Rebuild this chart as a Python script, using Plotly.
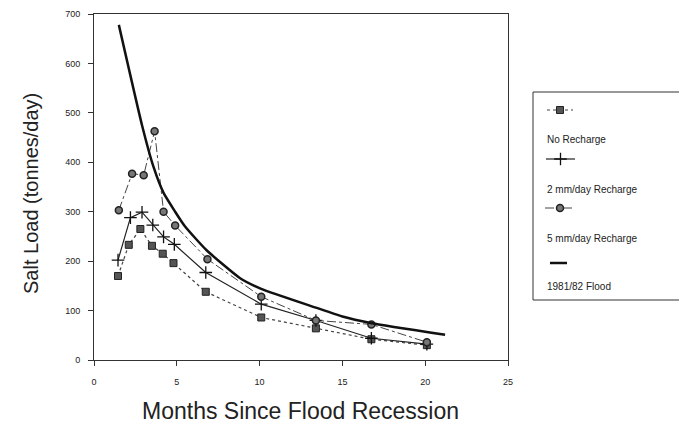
import plotly.graph_objects as go

W, H = 679, 429

# ---------------- data ----------------
months_none = [1.45, 2.1, 2.8, 3.5, 4.15, 4.8, 6.75, 10.1, 13.4, 16.75, 20.1]
load_none = [170, 233, 265, 231, 215, 196, 138, 86, 64, 42, 30]

months_2mm = [1.45, 2.2, 2.9, 3.55, 4.2, 4.85, 6.75, 10.1, 13.4, 16.75, 20.1]
load_2mm = [202, 288, 299, 273, 249, 234, 177, 113, 80, 44, 32]

months_5mm = [1.5, 2.3, 3.0, 3.66, 4.2, 4.9, 6.85, 10.1, 13.4, 16.75, 20.1]
load_5mm = [303, 377, 374, 463, 300, 272, 204, 128, 80, 72, 36]

months_flood = [1.5, 2.9, 3.6, 4.2, 4.9, 5.5, 6.8, 8.8, 10.1, 13.4, 15.0, 16.7, 21.2]
load_flood = [678, 475, 390, 338, 300, 270, 222, 166, 144, 106, 88, 75, 51]

x_ticks = [0, 5, 10, 15, 20, 25]
y_ticks = [0, 100, 200, 300, 400, 500, 600, 700]

series_names = ["No Recharge", "2 mm/day Recharge", "5 mm/day Recharge", "1981/82 Flood"]

# ---------------- styles ----------------
FONT = "Liberation Sans, Arial, sans-serif"
style_none = dict(line=dict(color="#444", width=1.2, dash="dot"),
                  marker=dict(symbol="square", size=7, color="#555",
                              line=dict(color="#222", width=1)))
style_2mm = dict(line=dict(color="#222", width=1.2),
                 marker=dict(symbol="cross-thin", size=9,
                             line=dict(color="#111", width=1.3)))
style_5mm = dict(line=dict(color="#444", width=1, dash="dashdot"),
                 marker=dict(symbol="circle", size=7, color="#777",
                             line=dict(color="#222", width=1.5)))
style_flood = dict(line=dict(color="#111", width=2.5, shape="spline", smoothing=0.5))

fig = go.Figure()
fig.add_trace(go.Scatter(x=months_none, y=load_none, mode="lines+markers",
                         name=series_names[0], **style_none))
fig.add_trace(go.Scatter(x=months_2mm, y=load_2mm, mode="lines+markers",
                         name=series_names[1], **style_2mm))
fig.add_trace(go.Scatter(x=months_5mm, y=load_5mm, mode="lines+markers",
                         name=series_names[2], **style_5mm))
fig.add_trace(go.Scatter(x=months_flood, y=load_flood, mode="lines",
                         name=series_names[3], **style_flood))

# ---------------- hand-drawn legend (pixel-like helper axes) ----------------
leg_left, leg_top, leg_bottom = 533, 92, 300
sym_rows = [110, 159, 208, 263]
lab_rows = [139, 189, 238, 286]
sample_styles = [(style_none, 547, 573),
                 (style_2mm, 546, 575),
                 (style_5mm, 545, 575),
                 (dict(line=dict(color="#111", width=2.5)), 550, 567)]
for (st, x0, x1), yy in zip(sample_styles, sym_rows):
    fig.add_trace(go.Scatter(x=[x0, x1], y=[yy, yy], mode="lines",
                             line=st["line"], xaxis="x2", yaxis="y2",
                             showlegend=False, hoverinfo="skip"))
    if "marker" in st:
        fig.add_trace(go.Scatter(x=[(x0 + x1) / 2], y=[yy], mode="markers",
                                 marker=st["marker"], xaxis="x2", yaxis="y2",
                                 showlegend=False, hoverinfo="skip"))

annotations = []
for name, yy in zip(series_names, lab_rows):
    annotations.append(dict(x=545 / W, y=1 - yy / H, xref="paper", yref="paper",
                            text=name, showarrow=False, xanchor="left", yanchor="middle",
                            font=dict(family=FONT, size=10, color="#222")))

# axis titles
annotations.append(dict(x=300 / W, y=1 - 411 / H, xref="paper", yref="paper",
                        text="Months Since Flood Recession", showarrow=False,
                        xanchor="center", yanchor="middle",
                        font=dict(family=FONT, size=23, color="#222")))
annotations.append(dict(x=31 / W, y=1 - 194 / H, xref="paper", yref="paper",
                        text="Salt Load (tonnes/day)", showarrow=False, textangle=-90,
                        xanchor="center", yanchor="middle",
                        font=dict(family=FONT, size=20, color="#222")))

shapes = [
    dict(type="line", xref="paper", yref="paper", x0=leg_left / W, x1=leg_left / W,
         y0=1 - leg_top / H, y1=1 - leg_bottom / H, line=dict(color="#333", width=1)),
    dict(type="line", xref="paper", yref="paper", x0=leg_left / W, x1=1,
         y0=1 - leg_top / H, y1=1 - leg_top / H, line=dict(color="#333", width=1)),
    dict(type="line", xref="paper", yref="paper", x0=leg_left / W, x1=1,
         y0=1 - leg_bottom / H, y1=1 - leg_bottom / H, line=dict(color="#333", width=1)),
]

px_l, px_r, px_t, px_b = 94, 508, 14, 360
fig.update_layout(
    width=W, height=H,
    margin=dict(l=0, r=0, t=0, b=0),
    paper_bgcolor="white", plot_bgcolor="white",
    showlegend=False,
    font=dict(family=FONT, color="#222"),
    xaxis=dict(domain=[px_l / W, px_r / W], range=[0, 25], tickvals=x_ticks,
               ticktext=[str(v) for v in x_ticks],
               showgrid=False, zeroline=False, showline=True, linecolor="#333",
               linewidth=1, mirror=True, ticks="outside", ticklen=5, tickcolor="#333",
               tickfont=dict(family=FONT, size=9, color="#222"),
               ticklabelstandoff=8, automargin=False),
    yaxis=dict(domain=[1 - px_b / H, 1 - px_t / H], range=[0, 700], tickvals=y_ticks,
               ticktext=[str(v) for v in y_ticks],
               showgrid=False, zeroline=False, showline=True, linecolor="#333",
               linewidth=1, mirror=True, ticks="outside", ticklen=5, tickcolor="#333",
               tickfont=dict(family=FONT, size=9, color="#222"),
               ticklabelstandoff=6, automargin=False),
    xaxis2=dict(domain=[leg_left / W, 1], range=[leg_left, W], visible=False,
                fixedrange=True, anchor="y2"),
    yaxis2=dict(domain=[0, 1], range=[H, 0], visible=False, fixedrange=True,
                anchor="x2"),
    annotations=annotations,
    shapes=shapes,
)

fig.write_html(
    "out.html",
    config={"displayModeBar": False},
    post_script="document.body.style.margin='0';document.body.style.overflow='hidden';",
)
